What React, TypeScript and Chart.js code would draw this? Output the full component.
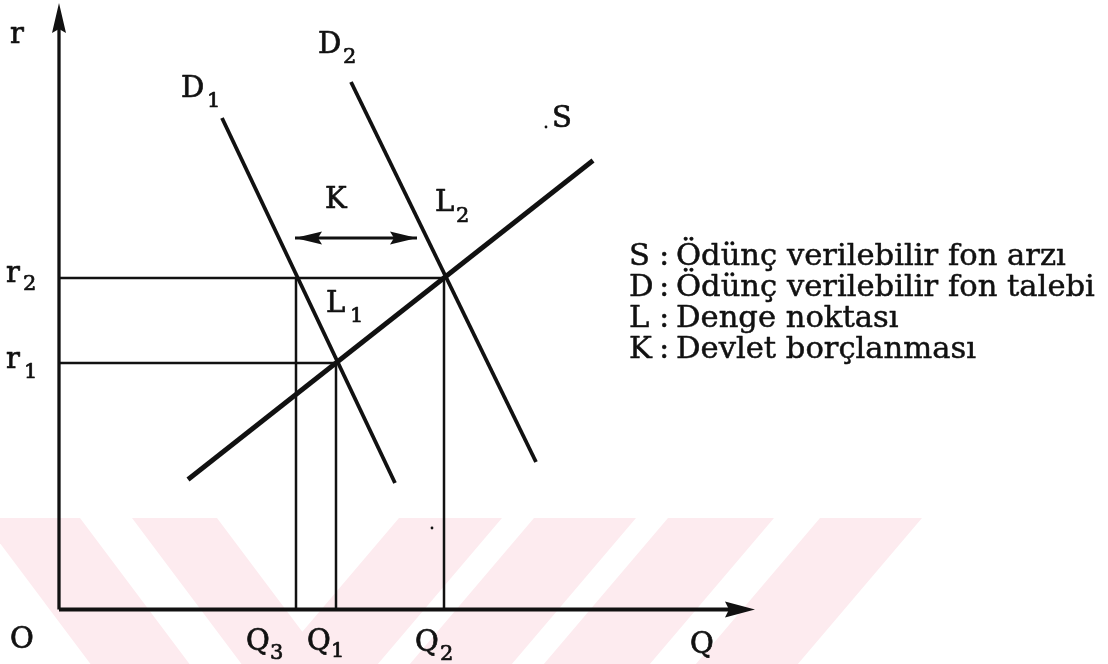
import React, { useEffect, useRef } from "react";
import { Chart, registerables } from "chart.js";

Chart.register(...registerables);

// ---- data space: origin O at (0,0), r upward, Q rightward ----
const X_MIN = -5.9;
const X_MAX = 104.9;
const Y_MIN = -5.45;
const Y_MAX = 60.95;

const axisTipQ = 69.6; // end of Q axis (arrow tip)
const axisTipR = 60.65; // end of r axis (arrow tip)

const r1 = 24.65;
const r2 = 33.15;
const Q3 = 23.7;
const Q1 = 27.7;
const Q2 = 38.5;

const supplyS = [
  { x: 12.9, y: 13.0 },
  { x: 53.4, y: 44.9 },
];
const demandD1 = [
  { x: 16.3, y: 49.15 },
  { x: 33.6, y: 12.65 },
];
const demandD2 = [
  { x: 29.2, y: 52.75 },
  { x: 47.7, y: 14.75 },
];
const arrowK = [
  { x: 23.6, y: 37.15 },
  { x: 35.8, y: 37.15 },
];
const specks = [
  { x: 48.7, y: 48.25 },
  { x: 37.3, y: 8.15 },
];

const legendKeys = ["S", "D", "L", "K"];
const legendTexts = [
  "Ödünç verilebilir fon arzı",
  "Ödünç verilebilir fon talebi",
  "Denge noktası",
  "Devlet borçlanması",
];

const INK = "#111111";
const FONT = "'DejaVu Serif', 'Liberation Serif', serif";

const bands: [number, number, number][] = [
  [-19, 80, 0.75],
  [132, 217, 0.75],
  [399, 502, -0.85],
  [534, 636, -0.85],
  [668, 774, -0.85],
  [820, 922, -0.85],
];

function line(data: { x: number; y: number }[], width: number) {
  return {
    data,
    showLine: true,
    borderColor: INK,
    backgroundColor: INK,
    borderWidth: width,
    pointRadius: 0,
    borderCapStyle: "butt" as const,
    fill: false,
  };
}

const decor = {
  id: "decor",
  beforeDatasetsDraw(chart: any) {
    const ctx = chart.ctx as CanvasRenderingContext2D;
    ctx.save();
    ctx.fillStyle = "rgb(253,235,239)";
    const top = 518;
    const bottom = chart.height;
    const h = bottom - top;
    for (const [a, b, s] of bands) {
      ctx.beginPath();
      ctx.moveTo(a, top);
      ctx.lineTo(b, top);
      ctx.lineTo(b + s * h, bottom);
      ctx.lineTo(a + s * h, bottom);
      ctx.closePath();
      ctx.fill();
    }
    ctx.restore();
  },
  afterDatasetsDraw(chart: any) {
    const ctx = chart.ctx as CanvasRenderingContext2D;
    const xs = chart.scales.x;
    const ys = chart.scales.y;
    const px = (v: number) => xs.getPixelForValue(v);
    const py = (v: number) => ys.getPixelForValue(v);

    const head = (tx: number, ty: number, dx: number, dy: number, len: number, hw: number) => {
      const bx = tx - dx * len;
      const by = ty - dy * len;
      const nx = -dy;
      const ny = dx;
      ctx.beginPath();
      ctx.moveTo(tx, ty);
      ctx.lineTo(bx + nx * hw, by + ny * hw);
      ctx.lineTo(bx + dx * 4, by + dy * 4);
      ctx.lineTo(bx - nx * hw, by - ny * hw);
      ctx.closePath();
      ctx.fill();
    };

    ctx.save();
    ctx.fillStyle = INK;
    ctx.strokeStyle = INK;
    head(px(0), py(axisTipR), 0, -1, 30, 7);
    head(px(axisTipQ), py(0), 1, 0, 30, 8);
    head(px(arrowK[0].x), py(arrowK[0].y), -1, 0, 27, 6.5);
    head(px(arrowK[1].x), py(arrowK[1].y), 1, 0, 27, 6.5);

    for (const s of specks) {
      ctx.beginPath();
      ctx.arc(px(s.x), py(s.y), 1.4, 0, Math.PI * 2);
      ctx.fill();
    }

    ctx.textAlign = "left";
    ctx.textBaseline = "alphabetic";
    ctx.lineJoin = "round";
    const main = `29px ${FONT}`;
    const sub = `21px ${FONT}`;
    const t = (s: string, x: number, y: number, f: string, sw = 0.7) => {
      ctx.font = f;
      ctx.lineWidth = sw;
      ctx.fillText(s, x, y);
      ctx.strokeText(s, x, y);
    };
    t("r", 10, 43, main);
    t("D", 181, 97, main);
    t("1", 207, 107, sub);
    t("D", 318, 53, main);
    t("2", 343, 63, sub);
    t("K", 325, 208, main);
    t("L", 435, 211, main);
    t("2", 456, 222, sub);
    t("L", 326, 312, main);
    t("1", 350, 322, sub);
    t("S", 552, 127, main);
    t("r", 6, 282, main);
    t("2", 23, 290, sub);
    t("r", 6, 368, main);
    t("1", 24, 378, sub);
    t("O", 10, 648, main);
    t("Q", 246, 650, main);
    t("3", 270, 659, sub);
    t("Q", 307, 650, main);
    t("1", 331, 657, sub);
    t("Q", 415, 651, main);
    t("2", 440, 660, sub);
    t("Q", 690, 653, main);

    // legend, fitted to the measured width of the longest entry
    ctx.font = `25px ${FONT}`;
    const w = ctx.measureText(legendTexts[1]).width;
    const size = (25 * 419) / w;
    const lf = `${size.toFixed(2)}px ${FONT}`;
    const baselines = [265, 296, 327, 358];
    legendKeys.forEach((k, i) => {
      t(k, 629, baselines[i], lf, 0.5);
      t(":", 659, baselines[i], lf, 0.5);
      t(legendTexts[i], 676, baselines[i], lf, 0.5);
    });
    ctx.restore();
  },
};

export default function App() {
  const ref = useRef<HTMLCanvasElement | null>(null);
  useEffect(() => {
    document.body.style.margin = "0";
    const canvas = ref.current;
    if (!canvas) return;
    const datasets = [
      line([{ x: 0, y: 0 }, { x: 0, y: axisTipR - 1 }], 3.3),
      line([{ x: 0, y: 0 }, { x: axisTipQ - 1, y: 0 }], 3.8),
      line([{ x: 0, y: r2 }, { x: Q2, y: r2 }], 2.5),
      line([{ x: 0, y: r1 }, { x: Q1, y: r1 }], 2.5),
      line([{ x: Q3, y: 0 }, { x: Q3, y: r2 }], 2.5),
      line([{ x: Q1, y: 0 }, { x: Q1, y: r1 }], 2.5),
      line([{ x: Q2, y: 0 }, { x: Q2, y: r2 }], 2.5),
      line(demandD1, 3.8),
      line(demandD2, 3.8),
      line(supplyS, 4.8),
      line(arrowK, 3.2),
    ];
    const chart = new Chart(canvas, {
      type: "scatter",
      data: { datasets },
      options: {
        responsive: false,
        devicePixelRatio: 1,
        animation: false,
        events: [],
        layout: { padding: 0 },
        plugins: { legend: { display: false }, tooltip: { enabled: false }, title: { display: false } },
        scales: {
          x: { type: "linear", display: false, min: X_MIN, max: X_MAX },
          y: { type: "linear", display: false, min: Y_MIN, max: Y_MAX },
        },
      },
      plugins: [decor],
    });
    return () => chart.destroy();
  }, []);
  return (
    <div style={{ width: 1108, height: 664, background: "#fff" }}>
      <canvas ref={ref} width={1108} height={664} style={{ display: "block" }} />
    </div>
  );
}
